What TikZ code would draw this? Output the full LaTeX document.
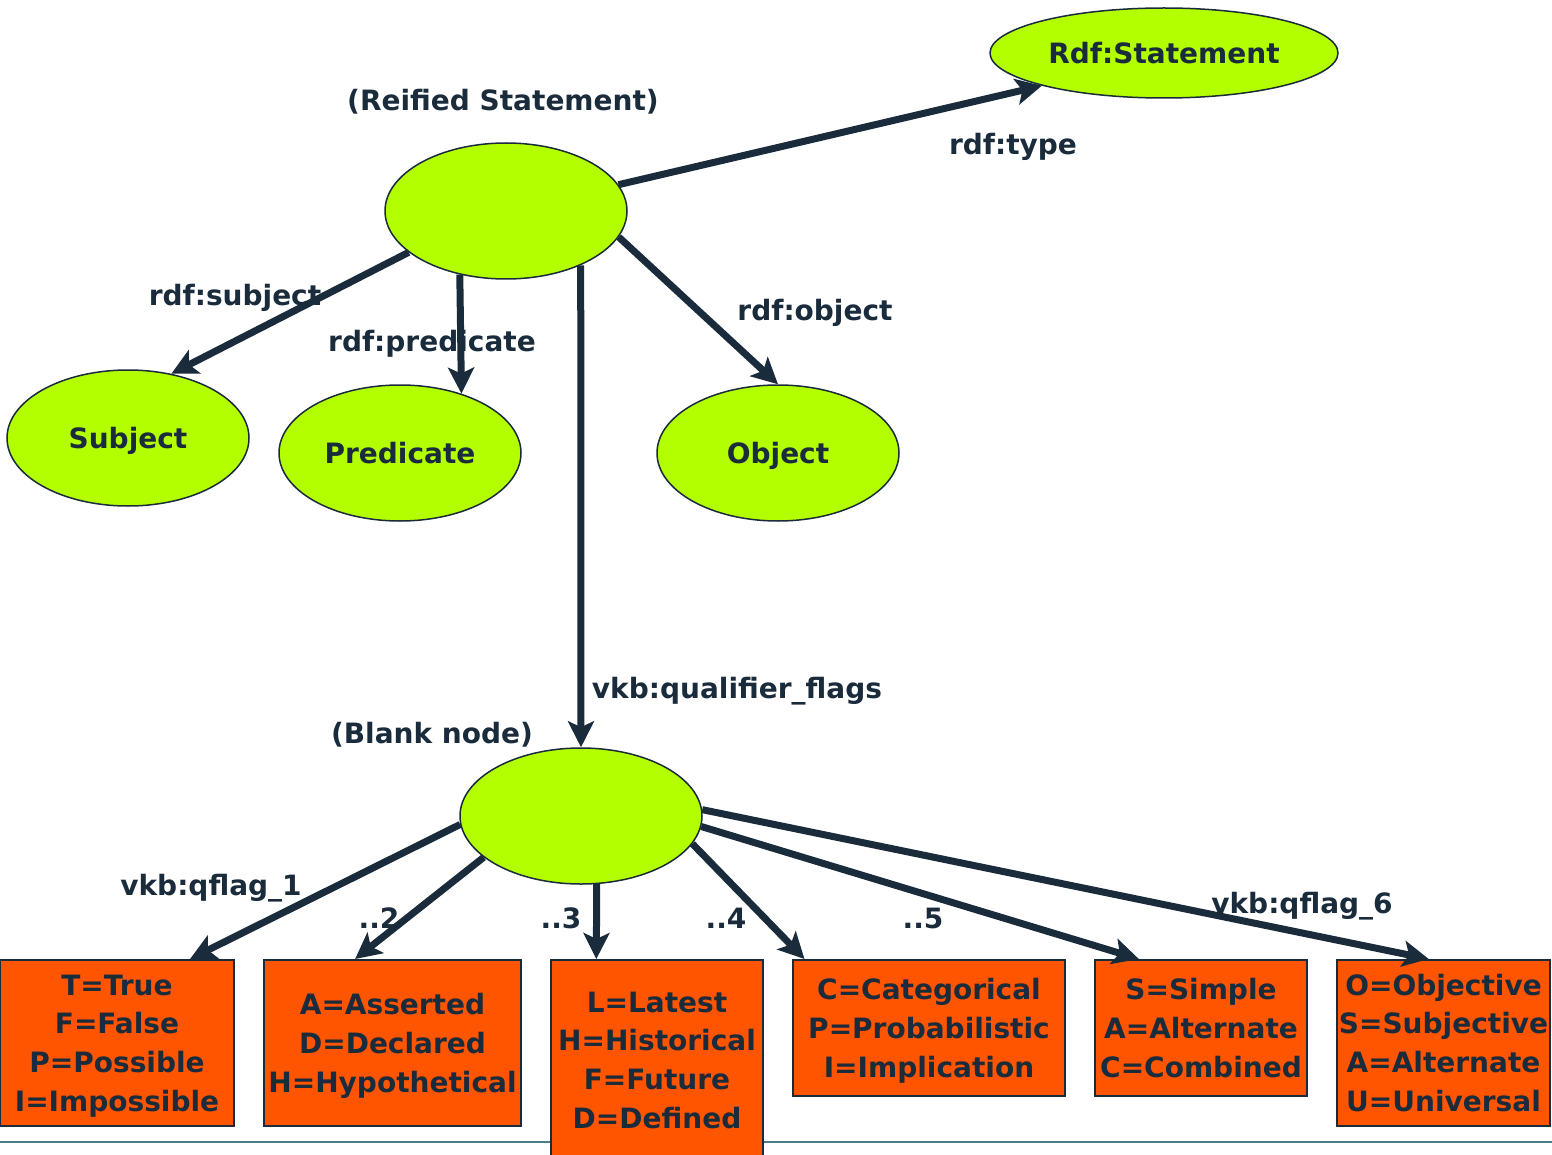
\documentclass[tikz,border=0pt]{standalone}
\usepackage{fontspec}
\setmainfont{DejaVu Sans}
\usetikzlibrary{arrows.meta,shapes.geometric}
\begin{document}
\begin{tikzpicture}
% Reified statement and its qualifier flags
\def\pxsz{0.5pt}
\definecolor{rdfNodeFill}{RGB}{179,255,0}
\definecolor{rdfFlagFill}{RGB}{255,85,0}
\definecolor{rdfInk}{RGB}{26,43,60}
\definecolor{rdfRuleColor}{RGB}{74,125,140}
\providecommand{\rdfArrowWidth}{3.5pt}
\providecommand{\rdfBorderWidth}{0.75pt}
\begin{scope}[x=\pxsz, y=-\pxsz,
  every node/.style={font=\fontsize{14}{19.4}\selectfont\bfseries, text=rdfInk},
  resnode/.style={ellipse, draw=rdfInk, line width=\rdfBorderWidth, fill=rdfNodeFill,
    inner sep=0pt, minimum width=121pt, minimum height=68pt, text height=10.2pt, text depth=0pt},
  flagbox/.style={rectangle, draw=rdfInk, line width=1pt, fill=rdfFlagFill, inner sep=1pt,
    align=center, text depth=0pt},
  flagsthree/.style={flagbox, text height=49pt},
  flagsfour/.style={flagbox, text height=68.4pt},
  edgelabel/.style={anchor=base},
  rdfarrow/.style={draw=rdfInk, line width=\rdfArrowWidth, -{Stealth[length=13pt,width=13pt,inset=3pt]}}]
  \useasboundingbox (0,0) rectangle (1552,1155);
  % Separator rule at the foot
  \draw[rdfRuleColor, line width=\rdfBorderWidth] (0,1142) -- (1552,1142);
  % Labels
  \node[edgelabel] (lreif) at (503,111) {(Reified Statement)};
  \node[edgelabel] (ltype) at (1013,155) {rdf:type};
  \node[edgelabel] (lsubj) at (235,306) {rdf:subject};
  \node[edgelabel] (lpred) at (432,351) {rdf:predicate};
  \node[edgelabel] (lobj) at (815,321) {rdf:object};
  \node[edgelabel] (lqual) at (737,698) {vkb:qualifier\_flags};
  \node[edgelabel] (lblank) at (432,743) {(Blank node)};
  \node[edgelabel] (lflag1) at (211,895) {vkb:qflag\_1};
  \node[edgelabel] (lflag2) at (379,928) {..2};
  \node[edgelabel] (lflag3) at (561,928) {..3};
  \node[edgelabel] (lflag4) at (726,928) {..4};
  \node[edgelabel] (lflag5) at (923,928) {..5};
  \node[edgelabel] (lflag6) at (1302,913) {vkb:qflag\_6};
  % Resource nodes
  \node[resnode, minimum width=174pt, minimum height=45pt] (stmt) at (1164,53) {Rdf:Statement};
  \node[resnode] (reif) at (506,211) {};
  \node[resnode] (subj) at (128,438) {Subject};
  \node[resnode] (pred) at (400,453) {Predicate};
  \node[resnode] (obj) at (778,453) {Object};
  \node[resnode] (blank) at (581,816) {};
  % Flag value boxes
  \node[flagsfour, minimum width=117pt, minimum height=83pt] (flag1) at (117,1043)
    {T=True\\F=False\\P=Possible\\I=Impossible};
  \node[flagsthree, minimum width=128.5pt, minimum height=83pt] (flag2) at (392.5,1043)
    {A=Asserted\\D=Declared\\H=Hypothetical};
  \node[flagsfour, minimum width=106pt, minimum height=100pt] (flag3) at (657,1060)
    {L=Latest\\H=Historical\\F=Future\\D=Defined};
  \node[flagsthree, minimum width=136pt, minimum height=68pt] (flag4) at (929,1028)
    {C=Categorical\\P=Probabilistic\\I=Implication};
  \node[flagsthree, minimum width=106pt, minimum height=68pt] (flag5) at (1201,1028)
    {S=Simple\\A=Alternate\\C=Combined};
  \node[flagsfour, minimum width=106.5pt, minimum height=83pt] (flag6) at (1443.5,1043)
    {O=Objective\\S=Subjective\\A=Alternate\\U=Universal};
  % Property arrows
  \draw[rdfarrow] (reif) -- (stmt.195);
  \draw[rdfarrow] (reif.203) -- (subj.56);
  \draw[rdfarrow] (reif.234) -- (pred.44);
  \draw[rdfarrow] (reif.324.6) -- (blank.north);
  \draw[rdfarrow] (reif.347) -- (obj.north);
  % Qualifier flag arrows
  \draw[rdfarrow] (blank.184) -- (flag1.49.5);
  \draw[rdfarrow] (blank.203) -- (flag2.114.3);
  \draw[rdfarrow] (blank.283) -- (flag3.121);
  \draw[rdfarrow] (blank.346.8) -- (flag4.151);
  \draw[rdfarrow] (blank.355.7) -- (flag5.132.4);
  \draw[rdfarrow] (blank.3.8) -- (flag6.100.6);
\end{scope}
\end{tikzpicture}
\end{document}
